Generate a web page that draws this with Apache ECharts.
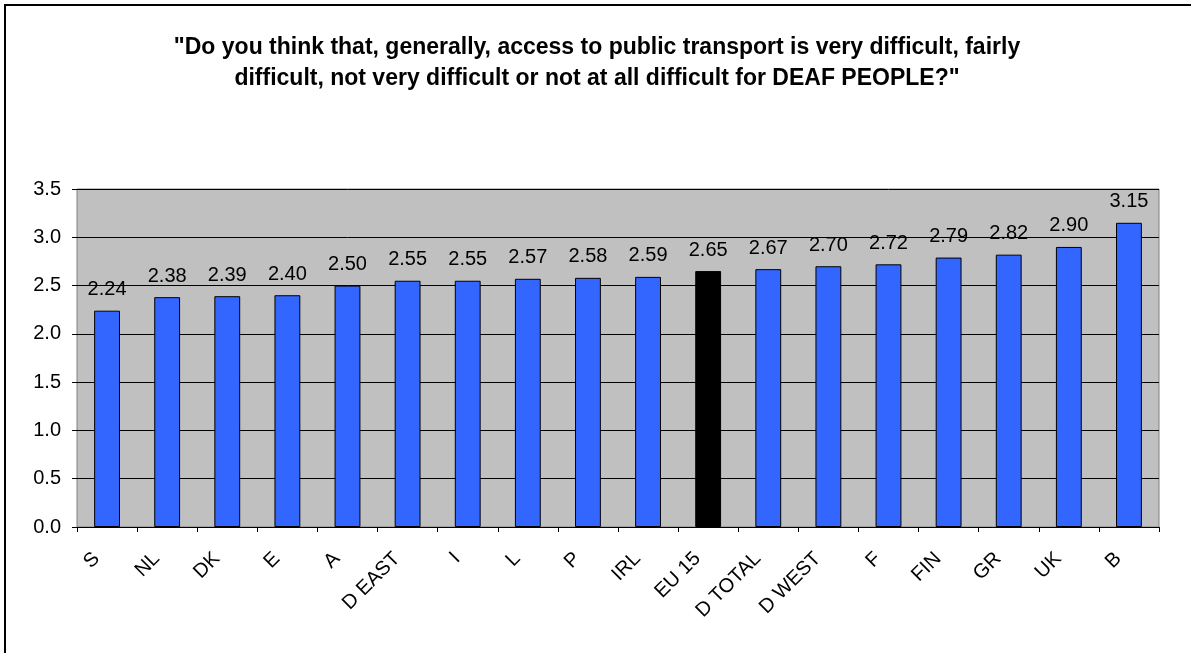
<!DOCTYPE html>
<html>
<head>
<meta charset="utf-8">
<title>Access to public transport for deaf people</title>
<script src="https://cdn.jsdelivr.net/npm/echarts@6/dist/echarts.min.js"></script>
<style>
  html, body { margin: 0; padding: 0; background: #ffffff; }
  #chart { width: 1191px; height: 653px; }
</style>
</head>
<body>
<div id="chart"></div>
<script>
// Country codes, in ascending order of average score
const categories = ['S', 'NL', 'DK', 'E', 'A', 'D EAST', 'I', 'L', 'P', 'IRL',
  'EU 15', 'D TOTAL', 'D WEST', 'F', 'FIN', 'GR', 'UK', 'B'];
// Average difficulty score per country
const scores = [2.24, 2.38, 2.39, 2.40, 2.50, 2.55, 2.55, 2.57, 2.58, 2.59,
  2.65, 2.67, 2.70, 2.72, 2.79, 2.82, 2.90, 3.15];
// The EU average is highlighted
const highlightCategory = 'EU 15';

const titleLines = [
  '"Do you think that, generally, access to public transport is very difficult, fairly',
  'difficult, not very difficult or not at all difficult for DEAF PEOPLE?"'
];

const BAR_BLUE = '#3366FF';
const BAR_BLACK = '#000000';
const FONT = '"Liberation Sans", Arial, sans-serif';

const chart = echarts.init(document.getElementById('chart'), null, { renderer: 'canvas' });

const barData = scores.map((v, i) => ({
  value: v,
  itemStyle: { color: categories[i] === highlightCategory ? BAR_BLACK : BAR_BLUE }
}));

chart.setOption({
  animation: false,
  backgroundColor: '#ffffff',
  graphic: [{
    type: 'rect',
    shape: { x: 5, y: 5, width: 1300, height: 800 },
    style: { fill: null, stroke: '#000000', lineWidth: 2 },
    silent: true,
    z: 100
  }, {
    // Two-line question title
    type: 'text',
    x: 597,
    y: 32,
    silent: true,
    style: {
      text: titleLines.join('\n'),
      align: 'center',
      verticalAlign: 'top',
      fontFamily: FONT,
      fontWeight: 'bold',
      fontSize: 23,
      lineHeight: 31,
      fill: '#000000'
    }
  }],
  grid: {
    left: 77,
    right: 32,
    top: 189,
    bottom: 126,
    show: true,
    backgroundColor: '#C0C0C0',
    borderColor: '#808080',
    borderWidth: 1
  },
  xAxis: {
    type: 'category',
    data: categories,
    axisLine: { show: true, lineStyle: { color: '#000000', width: 1 } },
    axisTick: { show: true, alignWithLabel: false, length: 5, lineStyle: { color: '#000000' } },
    axisLabel: {
      rotate: 45,
      margin: 18,
      interval: 0,
      padding: [0, 15, 0, 0],
      fontFamily: FONT,
      fontSize: 20,
      color: '#000000'
    },
    splitLine: { show: false }
  },
  yAxis: {
    type: 'value',
    min: 0,
    max: 3.5,
    interval: 0.5,
    axisLine: { show: false },
    axisTick: { show: true, length: 5, lineStyle: { color: '#000000' } },
    axisLabel: {
      margin: 16,
      fontFamily: FONT,
      fontSize: 20,
      color: '#000000',
      formatter: v => v.toFixed(1)
    },
    splitLine: { show: true, lineStyle: { color: '#000000', width: 1 } }
  },
  series: [{
    type: 'bar',
    data: barData,
    barWidth: '43%',
    itemStyle: { borderColor: '#000000', borderWidth: 1 },
    label: {
      show: true,
      position: 'top',
      distance: 11,
      fontFamily: FONT,
      fontSize: 20,
      color: '#000000',
      formatter: p => p.value.toFixed(2)
    }
  }]
});
</script>
</body>
</html>
